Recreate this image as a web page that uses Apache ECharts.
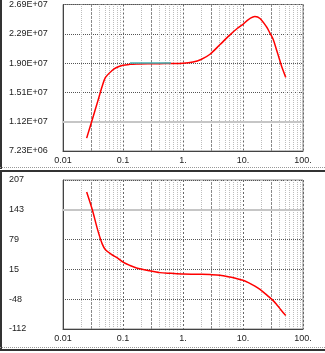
<!DOCTYPE html>
<html>
<head>
<meta charset="utf-8">
<script src="https://cdn.jsdelivr.net/npm/echarts@6/dist/echarts.min.js"></script>
<style>
  html, body { margin: 0; padding: 0; background: #fff; }
  #chart { width: 325px; height: 353px; }
</style>
</head>
<body>
<div id="chart"></div>
<script>
// Frequency points shared by both traces
const freq = [0.0248, 0.0308, 0.0378, 0.045, 0.051, 0.065, 0.078, 0.1, 0.13, 0.168,
              0.28, 0.41, 0.63, 1.0, 1.47, 2.0, 2.82, 4.14, 6.07, 8.0,
              10, 12.3, 15.8, 19.2, 24.8, 28, 31.8, 36.5, 41, 44, 51.6];
// Upper trace, in units of 1E+06
const magnitude = [8.96, 11.45, 13.85, 15.9, 17.1, 17.98, 18.42, 18.73, 18.85, 18.9,
                   18.93, 18.94, 18.95, 18.98, 19.15, 19.5, 20.2, 21.5, 22.8, 23.65,
                   24.2, 24.85, 25.25, 25.0, 23.85, 23.06, 22.2, 20.7, 19.4, 18.6, 17.1];
// Lower trace
const phase = [181, 143, 100, 70, 57.5, 47, 41, 31, 24, 18.5,
               12.3, 8.5, 7, 5.5, 5, 4.8, 4.3, 3, -1, -4.5,
               -8, -13, -20.5, -27.5, -39, -45, -51.5, -60.2, -68, -73, -83.5];
// Flat reference segment on the upper trace
const flatFreq = [0.131, 0.63];
const flatMag = [19.02, 19.02];

const xTickLabels = ['0.01', '0.1', '1.', '10.', '100.'];
const magTickLabels = ['7.23E+06', '1.12E+07', '1.51E+07', '1.90E+07', '2.29E+07', '2.69E+07'];
const phaseTickLabels = ['-112', '-48', '15', '79', '143', '207'];
const magRange = [7.23, 26.87];
const phaseRange = [-112.2, 206.8];

// Minor log gridlines (2..9 per decade)
const decades = [0.01, 0.1, 1, 10];
const minorLight = [], minorDark = [];
decades.forEach(d => {
  for (let k = 2; k <= 9; k++) {
    (k === 3 ? minorDark : minorLight).push(+(d * k).toPrecision(3));
  }
});

const FONT = 'Liberation Sans';
const grids = [
  { left: 63, right: 22, top: 3, height: 148 },
  { left: 63, right: 22, top: 180, height: 149 }
];

function xAxisFor(i) {
  return {
    type: 'log', logBase: 10, gridIndex: i, min: 0.01, max: 100, splitNumber: 4,
    axisLine: { show: true, lineStyle: { color: '#444', width: 1 } },
    axisTick: { show: false },
    axisLabel: {
      margin: 5, fontSize: 9, fontFamily: FONT, color: '#222',
      showMinLabel: true, showMaxLabel: true,
      formatter: v => xTickLabels[Math.round(Math.log10(v)) + 2]
    },
    splitLine: { show: true, lineStyle: { color: '#666', width: 1, type: [2, 2] } }
  };
}
function labelAxisFor(i, labels) {
  return {
    type: 'value', gridIndex: i, min: 0, max: 5, interval: 1,
    axisLine: { show: true, lineStyle: { color: '#444', width: 1 } },
    axisTick: { show: false },
    axisLabel: {
      align: 'left', margin: 54, fontSize: 9, fontFamily: FONT, color: '#222',
      showMinLabel: true, showMaxLabel: true,
      formatter: v => labels[Math.round(v)]
    },
    splitLine: { show: true, lineStyle: { color: '#555', width: 1, type: [1, 1] } }
  };
}
function valueAxisFor(i, range) {
  return { type: 'value', gridIndex: i, min: range[0], max: range[1], show: false, splitLine: { show: false } };
}
function minorGridSeries(xi, yi) {
  return {
    type: 'line', xAxisIndex: xi, yAxisIndex: yi, data: [], silent: true, z: 1,
    markLine: {
      silent: true, symbol: 'none', animation: false, label: { show: false },
      data: minorLight.map(v => ({ xAxis: v, lineStyle: { color: '#bdbdbd', width: 1, type: [1, 1] } }))
        .concat(minorDark.map(v => ({ xAxis: v, lineStyle: { color: '#8a8a8a', width: 1, type: [3, 1] } })))
    }
  };
}
function thickGridSeries(xi, yi, level) {
  return {
    type: 'line', xAxisIndex: xi, yAxisIndex: yi, data: [], silent: true, z: 1,
    markLine: {
      silent: true, symbol: 'none', animation: false, label: { show: false },
      data: [{ yAxis: level, lineStyle: { color: '#c6c6c6', width: 2, type: 'solid' } }]
    }
  };
}

const chart = echarts.init(document.getElementById('chart'), null, { renderer: 'canvas' });
chart.setOption({
  animation: false,
  backgroundColor: '#fff',
  grid: grids.map(g => Object.assign({ show: true, borderColor: '#888', borderWidth: 1, backgroundColor: '#fff' }, g)),
  xAxis: [xAxisFor(0), xAxisFor(1)],
  yAxis: [labelAxisFor(0, magTickLabels), valueAxisFor(0, magRange),
          labelAxisFor(1, phaseTickLabels), valueAxisFor(1, phaseRange)],
  series: [
    minorGridSeries(0, 0),
    minorGridSeries(1, 2),
    thickGridSeries(0, 0, 1),
    thickGridSeries(1, 2, 4),
    {
      type: 'line', xAxisIndex: 0, yAxisIndex: 1, z: 5, symbol: 'none', smooth: 0.3,
      lineStyle: { color: '#ff0000', width: 1.5 },
      data: freq.map((f, i) => [f, magnitude[i]])
    },
    {
      type: 'line', xAxisIndex: 0, yAxisIndex: 1, z: 10, symbol: 'none',
      lineStyle: { color: '#3fb2b2', width: 1.6 },
      data: flatFreq.map((f, i) => [f, flatMag[i]])
    },
    {
      type: 'line', xAxisIndex: 1, yAxisIndex: 3, z: 5, symbol: 'none', smooth: 0.3,
      lineStyle: { color: '#ff0000', width: 1.5 },
      data: freq.map((f, i) => [f, phase[i]])
    }
  ],
  graphic: [
    // panel frames
    { type: 'rect', shape: { x: 0, y: 0, width: 2, height: 169 }, style: { fill: '#333' }, silent: true },
    { type: 'line', shape: { x1: 0, y1: 167.5, x2: 325, y2: 167.5 }, style: { stroke: '#999', lineWidth: 1, lineDash: [1, 1] }, silent: true },
    { type: 'rect', shape: { x: 0, y: 170, width: 325, height: 2 }, style: { fill: '#333' }, silent: true },
    { type: 'rect', shape: { x: 0, y: 172, width: 2, height: 177 }, style: { fill: '#333' }, silent: true },
    { type: 'line', shape: { x1: 0, y1: 347.5, x2: 325, y2: 347.5 }, style: { stroke: '#999', lineWidth: 1, lineDash: [1, 1] }, silent: true },
    { type: 'rect', shape: { x: 0, y: 349, width: 325, height: 2 }, style: { fill: '#333' }, silent: true }
  ]
});
</script>
</body>
</html>
